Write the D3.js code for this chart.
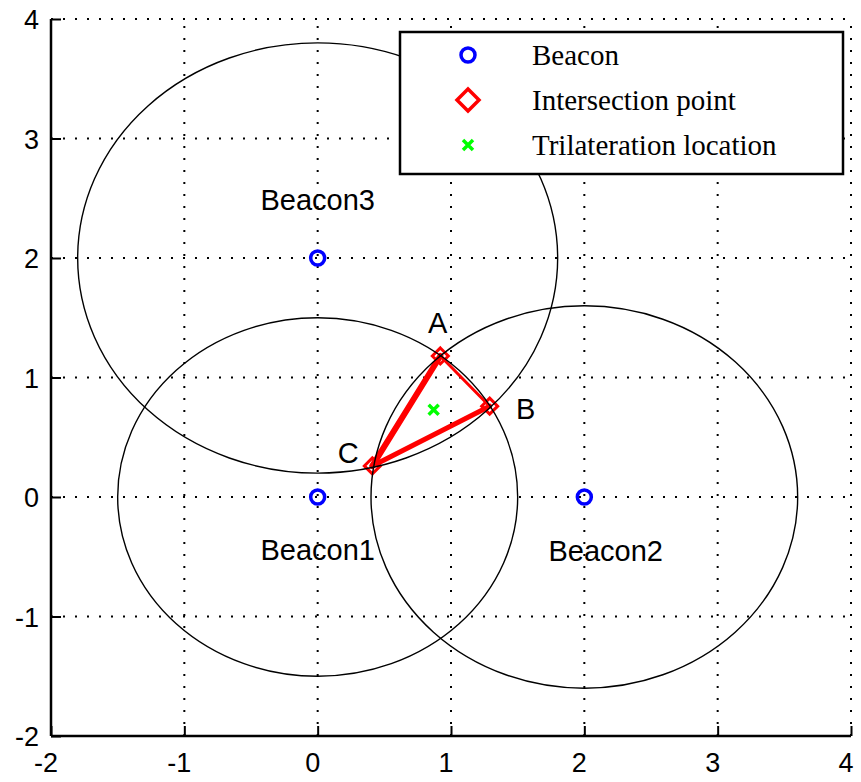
<!DOCTYPE html>
<html>
<head>
<meta charset="utf-8">
<script src="https://cdn.jsdelivr.net/npm/d3@7"></script>
<style>
  body { margin: 0; background: #fff; }
  svg { display: block; }
  .tick-label { font-family: "Liberation Sans", Arial, sans-serif; font-size: 27px; fill: #000; }
  .note { font-family: "Liberation Sans", Arial, sans-serif; font-size: 29px; fill: #000; }
  .legend-text { font-family: "Liberation Serif", "Times New Roman", serif; font-size: 29px; fill: #000; }
</style>
</head>
<body>
<div id="chart"></div>
<script>
// 1: DATA
const xTicks = [-2, -1, 0, 1, 2, 3, 4];
const yTicks = [-2, -1, 0, 1, 2, 3, 4];

const beaconNames = ["Beacon1", "Beacon2", "Beacon3"];
const beaconX = [0, 2, 0];
const beaconY = [0, 0, 2];
const beaconRadius = [1.5, 1.6, 1.8];

// beacon label anchor (center of text)
const beaconLabelX = [0, 2.16, 0];
const beaconLabelY = [-0.44, -0.45, 2.49];

const pointNames = ["A", "B", "C"];
const pointX = [0.92, 1.29, 0.41];
const pointY = [1.18, 0.76, 0.26];
const pointLabelX = [0.9, 1.56, 0.23];
const pointLabelY = [1.46, 0.74, 0.37];

// triangle edges as index pairs into the points, with line widths
const edgeFrom = [0, 1, 2];
const edgeTo = [1, 2, 0];
const edgeWidth = [3, 5, 6];

const trilatX = [0.87];
const trilatY = [0.73];

const legendLabels = ["Beacon", "Intersection point", "Trilateration location"];

// 2: SETUP
const W = 861, H = 782;
const svg = d3.select("#chart").append("svg")
  .attr("width", W)
  .attr("height", H);

const x = d3.scaleLinear().domain([-2, 4]).range([51, 851]);
const y = d3.scaleLinear().domain([-2, 4]).range([736, 19]);

// 3: GRID (dotted)
const grid = svg.append("g");
grid.selectAll(".gx").data(xTicks.filter(d => d > -2)).enter().append("line")
  .attr("x1", d => x(d)).attr("x2", d => x(d))
  .attr("y1", y(-2)).attr("y2", y(4))
  .attr("stroke", "#000").attr("stroke-width", 2)
  .attr("stroke-dasharray", "2,10");
grid.selectAll(".gy").data(yTicks.filter(d => d > -2)).enter().append("line")
  .attr("x1", x(-2)).attr("x2", x(4))
  .attr("y1", d => y(d)).attr("y2", d => y(d))
  .attr("stroke", "#000").attr("stroke-width", 2)
  .attr("stroke-dasharray", "2,10");

// 4: AXES (left + bottom, ticks inward)
const xAxis = svg.append("g")
  .attr("transform", `translate(0,${y(-2)})`)
  .call(d3.axisTop(x).tickValues(xTicks).tickSize(10).tickFormat(""));
const yAxis = svg.append("g")
  .attr("transform", `translate(${x(-2)},0)`)
  .call(d3.axisRight(y).tickValues(yTicks).tickSize(10).tickFormat(""));
[xAxis, yAxis].forEach(a => {
  a.select(".domain").remove();
  a.selectAll(".tick line").attr("stroke", "#000").attr("stroke-width", 2);
});
svg.append("line").attr("x1", x(-2)).attr("x2", x(4)).attr("y1", y(-2)).attr("y2", y(-2))
  .attr("stroke", "#000").attr("stroke-width", 2.5);
svg.append("line").attr("x1", x(-2)).attr("x2", x(-2)).attr("y1", y(-2)).attr("y2", y(4))
  .attr("stroke", "#000").attr("stroke-width", 2.5);

svg.selectAll(".xlab").data(xTicks).enter().append("text")
  .attr("class", "tick-label")
  .attr("x", d => x(d) - 5)
  .attr("y", y(-2) + 36)
  .attr("text-anchor", "middle")
  .text(d => d);
svg.selectAll(".ylab").data(yTicks).enter().append("text")
  .attr("class", "tick-label")
  .attr("x", x(-2) - 12)
  .attr("y", d => y(d) + 10)
  .attr("text-anchor", "end")
  .text(d => d);

// 5: TRIANGLE between intersection points
svg.selectAll(".edge").data(edgeFrom).enter().append("line")
  .attr("x1", d => x(pointX[d]))
  .attr("y1", d => y(pointY[d]))
  .attr("x2", (d, i) => x(pointX[edgeTo[i]]))
  .attr("y2", (d, i) => y(pointY[edgeTo[i]]))
  .attr("stroke", "#ff0000")
  .attr("stroke-width", (d, i) => edgeWidth[i])
  .attr("stroke-linecap", "round");

// diamonds
const diamond = (cx, cy, r) => `M${cx},${cy - r}L${cx + r},${cy}L${cx},${cy + r}L${cx - r},${cy}Z`;
svg.selectAll(".ipt").data(pointNames).enter().append("path")
  .attr("d", (d, i) => diamond(x(pointX[i]), y(pointY[i]), 8))
  .attr("fill", "none")
  .attr("stroke", "#ff0000")
  .attr("stroke-width", 3);

// 6: BEACON RANGE CIRCLES
svg.selectAll(".range").data(beaconNames).enter().append("ellipse")
  .attr("cx", (d, i) => x(beaconX[i]))
  .attr("cy", (d, i) => y(beaconY[i]))
  .attr("rx", (d, i) => x(beaconRadius[i]) - x(0))
  .attr("ry", (d, i) => y(0) - y(beaconRadius[i]))
  .attr("fill", "none")
  .attr("stroke", "#000")
  .attr("stroke-width", 1.4);

// beacon markers
svg.selectAll(".bm").data(beaconNames).enter().append("circle")
  .attr("cx", (d, i) => x(beaconX[i]))
  .attr("cy", (d, i) => y(beaconY[i]))
  .attr("r", 7)
  .attr("fill", "none")
  .attr("stroke", "#0000ff")
  .attr("stroke-width", 3.5);

// trilateration marker
const cross = (cx, cy, r) => `M${cx - r},${cy - r}L${cx + r},${cy + r}M${cx - r},${cy + r}L${cx + r},${cy - r}`;
svg.selectAll(".tm").data(trilatX).enter().append("path")
  .attr("d", (d, i) => cross(x(d), y(trilatY[i]), 5))
  .attr("stroke", "#00ff00")
  .attr("stroke-width", 3.5);

// 7: TEXT LABELS
svg.selectAll(".blab").data(beaconNames).enter().append("text")
  .attr("class", "note")
  .attr("x", (d, i) => x(beaconLabelX[i]))
  .attr("y", (d, i) => y(beaconLabelY[i]))
  .attr("dy", "0.35em")
  .attr("text-anchor", "middle")
  .text(d => d);
svg.selectAll(".plab").data(pointNames).enter().append("text")
  .attr("class", "note")
  .attr("x", (d, i) => x(pointLabelX[i]))
  .attr("y", (d, i) => y(pointLabelY[i]))
  .attr("dy", "0.35em")
  .attr("text-anchor", "middle")
  .text(d => d);

// 8: LEGEND
const legend = svg.append("g").attr("transform", "translate(400,32)");
legend.append("rect")
  .attr("width", 443).attr("height", 142)
  .attr("fill", "#fff").attr("stroke", "#000").attr("stroke-width", 2.5);
const rowY = [23, 68, 113];
legend.append("circle").attr("cx", 68).attr("cy", rowY[0]).attr("r", 7)
  .attr("fill", "none").attr("stroke", "#0000ff").attr("stroke-width", 3.5);
legend.append("path").attr("d", diamond(68, rowY[1], 11))
  .attr("fill", "none").attr("stroke", "#ff0000").attr("stroke-width", 3.5);
legend.append("path").attr("d", cross(68, rowY[2], 5))
  .attr("stroke", "#00ff00").attr("stroke-width", 3.5);
legend.selectAll(".lt").data(legendLabels).enter().append("text")
  .attr("class", "legend-text")
  .attr("x", 132)
  .attr("y", (d, i) => rowY[i])
  .attr("dy", "0.35em")
  .text(d => d);
</script>
</body>
</html>
